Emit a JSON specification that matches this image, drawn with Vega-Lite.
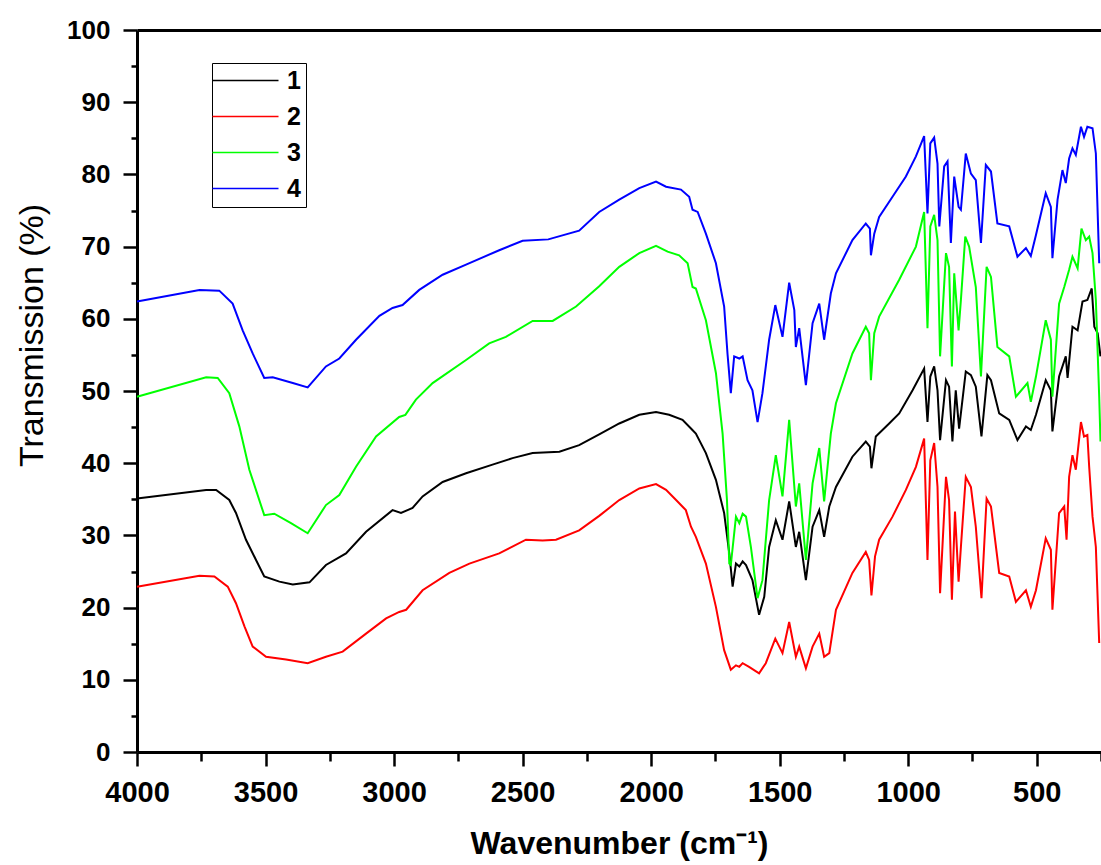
{
"$schema": "https://vega.github.io/schema/vega-lite/v6.json",
"width": 964, "height": 722,
"autosize": {"type": "none"},
"padding": {"left": 137, "top": 30, "right": 0, "bottom": 113},
"background": "white",
"config": {"view": {"stroke": null}, "font": "Liberation Sans"},
"data": {"values": [
{"s":"1","w":4000,"t":35.1},{"s":"1","w":3731,"t":36.3},{"s":"1","w":3692,"t":36.3},{"s":"1","w":3641,"t":34.9},{"s":"1","w":3615,"t":33.1},{"s":"1","w":3576,"t":29.4},{"s":"1","w":3537,"t":26.6},{"s":"1","w":3505,"t":24.3},{"s":"1","w":3446,"t":23.6},{"s":"1","w":3394,"t":23.2},{"s":"1","w":3329,"t":23.5},{"s":"1","w":3265,"t":25.9},{"s":"1","w":3187,"t":27.5},{"s":"1","w":3109,"t":30.5},{"s":"1","w":3006,"t":33.5},{"s":"1","w":2973,"t":33.1},{"s":"1","w":2928,"t":33.8},{"s":"1","w":2889,"t":35.4},{"s":"1","w":2811,"t":37.4},{"s":"1","w":2720,"t":38.6},{"s":"1","w":2617,"t":39.8},{"s":"1","w":2539,"t":40.7},{"s":"1","w":2461,"t":41.4},{"s":"1","w":2357,"t":41.6},{"s":"1","w":2280,"t":42.5},{"s":"1","w":2202,"t":44.0},{"s":"1","w":2124,"t":45.5},{"s":"1","w":2046,"t":46.7},{"s":"1","w":1981,"t":47.1},{"s":"1","w":1930,"t":46.7},{"s":"1","w":1878,"t":46.0},{"s":"1","w":1845,"t":44.8},{"s":"1","w":1826,"t":44.1},{"s":"1","w":1787,"t":41.4},{"s":"1","w":1748,"t":37.7},{"s":"1","w":1716,"t":33.1},{"s":"1","w":1696,"t":27.5},{"s":"1","w":1683,"t":22.9},{"s":"1","w":1670,"t":26.1},{"s":"1","w":1657,"t":25.7},{"s":"1","w":1644,"t":26.4},{"s":"1","w":1631,"t":25.9},{"s":"1","w":1606,"t":23.8},{"s":"1","w":1580,"t":19.0},{"s":"1","w":1560,"t":21.5},{"s":"1","w":1541,"t":28.4},{"s":"1","w":1515,"t":32.1},{"s":"1","w":1489,"t":29.4},{"s":"1","w":1463,"t":34.7},{"s":"1","w":1437,"t":28.4},{"s":"1","w":1424,"t":30.5},{"s":"1","w":1398,"t":23.8},{"s":"1","w":1372,"t":31.2},{"s":"1","w":1346,"t":33.5},{"s":"1","w":1327,"t":29.8},{"s":"1","w":1307,"t":34.0},{"s":"1","w":1281,"t":36.7},{"s":"1","w":1217,"t":40.9},{"s":"1","w":1165,"t":43.0},{"s":"1","w":1149,"t":42.3},{"s":"1","w":1143,"t":39.3},{"s":"1","w":1126,"t":43.7},{"s":"1","w":1074,"t":45.5},{"s":"1","w":1035,"t":46.9},{"s":"1","w":983,"t":50.1},{"s":"1","w":938,"t":53.1},{"s":"1","w":925,"t":45.7},{"s":"1","w":914,"t":52.0},{"s":"1","w":899,"t":53.4},{"s":"1","w":886,"t":50.1},{"s":"1","w":876,"t":43.2},{"s":"1","w":853,"t":51.5},{"s":"1","w":841,"t":50.6},{"s":"1","w":828,"t":43.0},{"s":"1","w":815,"t":50.1},{"s":"1","w":802,"t":44.8},{"s":"1","w":776,"t":52.7},{"s":"1","w":756,"t":52.2},{"s":"1","w":737,"t":50.6},{"s":"1","w":715,"t":43.7},{"s":"1","w":692,"t":52.2},{"s":"1","w":678,"t":51.5},{"s":"1","w":646,"t":46.9},{"s":"1","w":607,"t":46.0},{"s":"1","w":575,"t":43.2},{"s":"1","w":542,"t":45.1},{"s":"1","w":523,"t":44.6},{"s":"1","w":503,"t":46.7},{"s":"1","w":465,"t":51.5},{"s":"1","w":445,"t":50.1},{"s":"1","w":439,"t":44.4},{"s":"1","w":413,"t":52.0},{"s":"1","w":387,"t":54.8},{"s":"1","w":380,"t":51.8},{"s":"1","w":361,"t":58.9},{"s":"1","w":341,"t":58.4},{"s":"1","w":322,"t":62.4},{"s":"1","w":303,"t":62.6},{"s":"1","w":286,"t":64.2},{"s":"1","w":276,"t":58.9},{"s":"1","w":263,"t":58.0},{"s":"1","w":252,"t":54.8},
{"s":"2","w":4000,"t":22.9},{"s":"2","w":3757,"t":24.4},{"s":"2","w":3699,"t":24.3},{"s":"2","w":3647,"t":22.9},{"s":"2","w":3615,"t":20.6},{"s":"2","w":3582,"t":17.4},{"s":"2","w":3550,"t":14.6},{"s":"2","w":3498,"t":13.2},{"s":"2","w":3420,"t":12.8},{"s":"2","w":3336,"t":12.3},{"s":"2","w":3265,"t":13.2},{"s":"2","w":3200,"t":13.9},{"s":"2","w":3109,"t":16.4},{"s":"2","w":3031,"t":18.5},{"s":"2","w":2980,"t":19.4},{"s":"2","w":2953,"t":19.7},{"s":"2","w":2889,"t":22.4},{"s":"2","w":2785,"t":24.8},{"s":"2","w":2707,"t":26.1},{"s":"2","w":2591,"t":27.5},{"s":"2","w":2487,"t":29.4},{"s":"2","w":2422,"t":29.3},{"s":"2","w":2370,"t":29.4},{"s":"2","w":2280,"t":30.7},{"s":"2","w":2202,"t":32.7},{"s":"2","w":2124,"t":34.9},{"s":"2","w":2046,"t":36.5},{"s":"2","w":1981,"t":37.1},{"s":"2","w":1942,"t":36.3},{"s":"2","w":1903,"t":34.9},{"s":"2","w":1865,"t":33.5},{"s":"2","w":1845,"t":31.2},{"s":"2","w":1826,"t":29.8},{"s":"2","w":1787,"t":26.1},{"s":"2","w":1748,"t":20.1},{"s":"2","w":1716,"t":14.1},{"s":"2","w":1690,"t":11.4},{"s":"2","w":1670,"t":12.0},{"s":"2","w":1657,"t":11.8},{"s":"2","w":1644,"t":12.3},{"s":"2","w":1619,"t":11.8},{"s":"2","w":1580,"t":10.9},{"s":"2","w":1554,"t":12.3},{"s":"2","w":1517,"t":15.7},{"s":"2","w":1489,"t":13.7},{"s":"2","w":1463,"t":18.0},{"s":"2","w":1437,"t":13.2},{"s":"2","w":1424,"t":14.6},{"s":"2","w":1398,"t":11.6},{"s":"2","w":1372,"t":14.6},{"s":"2","w":1346,"t":16.4},{"s":"2","w":1327,"t":13.2},{"s":"2","w":1307,"t":13.7},{"s":"2","w":1281,"t":19.7},{"s":"2","w":1217,"t":24.8},{"s":"2","w":1165,"t":27.7},{"s":"2","w":1152,"t":26.6},{"s":"2","w":1143,"t":21.7},{"s":"2","w":1129,"t":27.1},{"s":"2","w":1113,"t":29.4},{"s":"2","w":1061,"t":32.6},{"s":"2","w":1009,"t":36.3},{"s":"2","w":970,"t":39.5},{"s":"2","w":938,"t":43.4},{"s":"2","w":925,"t":26.6},{"s":"2","w":914,"t":40.4},{"s":"2","w":899,"t":42.8},{"s":"2","w":886,"t":36.7},{"s":"2","w":876,"t":22.0},{"s":"2","w":853,"t":38.1},{"s":"2","w":841,"t":34.9},{"s":"2","w":830,"t":21.1},{"s":"2","w":818,"t":33.3},{"s":"2","w":804,"t":23.6},{"s":"2","w":795,"t":28.4},{"s":"2","w":776,"t":38.1},{"s":"2","w":756,"t":36.7},{"s":"2","w":737,"t":31.2},{"s":"2","w":715,"t":21.3},{"s":"2","w":695,"t":35.1},{"s":"2","w":678,"t":34.0},{"s":"2","w":646,"t":24.8},{"s":"2","w":607,"t":24.3},{"s":"2","w":581,"t":20.8},{"s":"2","w":542,"t":22.4},{"s":"2","w":523,"t":20.1},{"s":"2","w":503,"t":22.4},{"s":"2","w":465,"t":29.6},{"s":"2","w":445,"t":28.0},{"s":"2","w":439,"t":19.7},{"s":"2","w":413,"t":33.1},{"s":"2","w":393,"t":34.0},{"s":"2","w":384,"t":29.4},{"s":"2","w":374,"t":38.1},{"s":"2","w":361,"t":41.1},{"s":"2","w":348,"t":39.1},{"s":"2","w":328,"t":45.7},{"s":"2","w":316,"t":43.7},{"s":"2","w":303,"t":43.9},{"s":"2","w":296,"t":39.5},{"s":"2","w":283,"t":32.6},{"s":"2","w":270,"t":28.4},{"s":"2","w":257,"t":15.1},
{"s":"3","w":4000,"t":49.2},{"s":"3","w":3731,"t":51.9},{"s":"3","w":3686,"t":51.8},{"s":"3","w":3641,"t":49.7},{"s":"3","w":3602,"t":45.1},{"s":"3","w":3563,"t":39.1},{"s":"3","w":3505,"t":32.8},{"s":"3","w":3466,"t":33.0},{"s":"3","w":3401,"t":31.7},{"s":"3","w":3336,"t":30.3},{"s":"3","w":3265,"t":34.2},{"s":"3","w":3213,"t":35.6},{"s":"3","w":3148,"t":39.5},{"s":"3","w":3070,"t":43.7},{"s":"3","w":2980,"t":46.4},{"s":"3","w":2956,"t":46.7},{"s":"3","w":2915,"t":48.8},{"s":"3","w":2850,"t":51.1},{"s":"3","w":2720,"t":54.3},{"s":"3","w":2630,"t":56.6},{"s":"3","w":2565,"t":57.5},{"s":"3","w":2461,"t":59.7},{"s":"3","w":2383,"t":59.7},{"s":"3","w":2292,"t":61.7},{"s":"3","w":2202,"t":64.5},{"s":"3","w":2124,"t":67.2},{"s":"3","w":2046,"t":69.1},{"s":"3","w":1981,"t":70.1},{"s":"3","w":1936,"t":69.3},{"s":"3","w":1891,"t":68.8},{"s":"3","w":1858,"t":67.7},{"s":"3","w":1839,"t":64.4},{"s":"3","w":1826,"t":64.2},{"s":"3","w":1787,"t":59.8},{"s":"3","w":1748,"t":52.5},{"s":"3","w":1722,"t":44.1},{"s":"3","w":1705,"t":34.9},{"s":"3","w":1696,"t":26.1},{"s":"3","w":1690,"t":25.9},{"s":"3","w":1670,"t":32.6},{"s":"3","w":1657,"t":31.7},{"s":"3","w":1644,"t":33.0},{"s":"3","w":1631,"t":32.6},{"s":"3","w":1612,"t":28.4},{"s":"3","w":1586,"t":21.3},{"s":"3","w":1567,"t":23.8},{"s":"3","w":1541,"t":34.9},{"s":"3","w":1515,"t":41.1},{"s":"3","w":1489,"t":35.4},{"s":"3","w":1463,"t":46.0},{"s":"3","w":1437,"t":34.0},{"s":"3","w":1424,"t":37.2},{"s":"3","w":1398,"t":26.6},{"s":"3","w":1372,"t":37.2},{"s":"3","w":1346,"t":42.1},{"s":"3","w":1327,"t":34.7},{"s":"3","w":1301,"t":44.1},{"s":"3","w":1281,"t":48.3},{"s":"3","w":1217,"t":55.2},{"s":"3","w":1165,"t":58.9},{"s":"3","w":1152,"t":58.0},{"s":"3","w":1145,"t":51.5},{"s":"3","w":1132,"t":58.0},{"s":"3","w":1113,"t":60.3},{"s":"3","w":1035,"t":65.4},{"s":"3","w":970,"t":70.0},{"s":"3","w":938,"t":74.8},{"s":"3","w":925,"t":58.7},{"s":"3","w":914,"t":72.8},{"s":"3","w":899,"t":74.4},{"s":"3","w":886,"t":70.9},{"s":"3","w":876,"t":54.8},{"s":"3","w":853,"t":69.1},{"s":"3","w":841,"t":67.2},{"s":"3","w":830,"t":53.4},{"s":"3","w":821,"t":66.3},{"s":"3","w":804,"t":58.4},{"s":"3","w":795,"t":62.6},{"s":"3","w":778,"t":71.4},{"s":"3","w":763,"t":70.0},{"s":"3","w":737,"t":64.4},{"s":"3","w":717,"t":52.0},{"s":"3","w":695,"t":67.2},{"s":"3","w":678,"t":65.8},{"s":"3","w":653,"t":56.1},{"s":"3","w":607,"t":54.8},{"s":"3","w":581,"t":49.2},{"s":"3","w":536,"t":51.1},{"s":"3","w":523,"t":48.5},{"s":"3","w":503,"t":52.0},{"s":"3","w":465,"t":59.8},{"s":"3","w":445,"t":57.1},{"s":"3","w":439,"t":49.2},{"s":"3","w":413,"t":62.1},{"s":"3","w":393,"t":64.4},{"s":"3","w":374,"t":66.8},{"s":"3","w":361,"t":68.6},{"s":"3","w":341,"t":67.0},{"s":"3","w":326,"t":72.5},{"s":"3","w":309,"t":70.9},{"s":"3","w":296,"t":71.4},{"s":"3","w":283,"t":69.1},{"s":"3","w":270,"t":62.6},{"s":"3","w":257,"t":49.2},{"s":"3","w":252,"t":43.0},
{"s":"4","w":4000,"t":62.4},{"s":"4","w":3757,"t":64.0},{"s":"4","w":3680,"t":63.9},{"s":"4","w":3628,"t":62.1},{"s":"4","w":3589,"t":58.4},{"s":"4","w":3550,"t":55.2},{"s":"4","w":3505,"t":51.8},{"s":"4","w":3472,"t":51.9},{"s":"4","w":3394,"t":51.1},{"s":"4","w":3336,"t":50.5},{"s":"4","w":3265,"t":53.4},{"s":"4","w":3213,"t":54.5},{"s":"4","w":3148,"t":57.1},{"s":"4","w":3057,"t":60.4},{"s":"4","w":3006,"t":61.5},{"s":"4","w":2967,"t":61.9},{"s":"4","w":2902,"t":64.0},{"s":"4","w":2811,"t":66.1},{"s":"4","w":2720,"t":67.5},{"s":"4","w":2591,"t":69.5},{"s":"4","w":2500,"t":70.8},{"s":"4","w":2400,"t":71.0},{"s":"4","w":2280,"t":72.2},{"s":"4","w":2202,"t":74.8},{"s":"4","w":2124,"t":76.5},{"s":"4","w":2046,"t":78.1},{"s":"4","w":1981,"t":79.0},{"s":"4","w":1942,"t":78.3},{"s":"4","w":1884,"t":77.9},{"s":"4","w":1852,"t":76.9},{"s":"4","w":1839,"t":75.1},{"s":"4","w":1819,"t":74.8},{"s":"4","w":1787,"t":71.8},{"s":"4","w":1748,"t":67.7},{"s":"4","w":1716,"t":61.7},{"s":"4","w":1703,"t":55.2},{"s":"4","w":1690,"t":49.7},{"s":"4","w":1677,"t":54.8},{"s":"4","w":1657,"t":54.5},{"s":"4","w":1644,"t":54.8},{"s":"4","w":1625,"t":51.5},{"s":"4","w":1606,"t":50.1},{"s":"4","w":1586,"t":45.7},{"s":"4","w":1567,"t":49.7},{"s":"4","w":1541,"t":57.1},{"s":"4","w":1517,"t":61.9},{"s":"4","w":1489,"t":57.5},{"s":"4","w":1463,"t":65.0},{"s":"4","w":1443,"t":61.2},{"s":"4","w":1437,"t":56.1},{"s":"4","w":1424,"t":58.7},{"s":"4","w":1398,"t":50.8},{"s":"4","w":1372,"t":59.4},{"s":"4","w":1346,"t":62.1},{"s":"4","w":1327,"t":57.1},{"s":"4","w":1301,"t":63.5},{"s":"4","w":1281,"t":66.3},{"s":"4","w":1217,"t":70.9},{"s":"4","w":1165,"t":73.2},{"s":"4","w":1149,"t":72.5},{"s":"4","w":1145,"t":68.8},{"s":"4","w":1132,"t":71.8},{"s":"4","w":1113,"t":74.1},{"s":"4","w":1061,"t":76.9},{"s":"4","w":1009,"t":79.7},{"s":"4","w":970,"t":82.5},{"s":"4","w":938,"t":85.3},{"s":"4","w":925,"t":74.6},{"s":"4","w":914,"t":84.3},{"s":"4","w":899,"t":85.1},{"s":"4","w":886,"t":81.5},{"s":"4","w":879,"t":72.8},{"s":"4","w":860,"t":81.1},{"s":"4","w":847,"t":81.8},{"s":"4","w":834,"t":70.5},{"s":"4","w":821,"t":79.7},{"s":"4","w":804,"t":75.5},{"s":"4","w":795,"t":75.1},{"s":"4","w":776,"t":82.9},{"s":"4","w":756,"t":80.1},{"s":"4","w":737,"t":79.2},{"s":"4","w":717,"t":70.5},{"s":"4","w":698,"t":81.3},{"s":"4","w":678,"t":80.4},{"s":"4","w":653,"t":73.2},{"s":"4","w":607,"t":72.8},{"s":"4","w":575,"t":68.6},{"s":"4","w":542,"t":69.8},{"s":"4","w":523,"t":68.7},{"s":"4","w":503,"t":71.6},{"s":"4","w":465,"t":77.4},{"s":"4","w":445,"t":75.5},{"s":"4","w":439,"t":68.4},{"s":"4","w":419,"t":76.5},{"s":"4","w":400,"t":80.6},{"s":"4","w":387,"t":78.8},{"s":"4","w":374,"t":82.2},{"s":"4","w":361,"t":83.6},{"s":"4","w":348,"t":82.7},{"s":"4","w":328,"t":86.6},{"s":"4","w":316,"t":85.2},{"s":"4","w":303,"t":86.6},{"s":"4","w":283,"t":86.4},{"s":"4","w":270,"t":82.9},{"s":"4","w":257,"t":67.7}
]},
"layer": [
{"mark": {"type": "line", "opacity": 0},
 "encoding": {
  "x": {"field": "w", "type": "quantitative",
   "axis": {"orient": "bottom", "title": null, "values": [3750,3250,2750,2250,1750,1250,750,250], "labels": false, "domain": false, "grid": false, "tickSize": 9, "tickColor": "black", "tickWidth": 2.5}},
  "y": {"field": "t", "type": "quantitative",
   "axis": {"orient": "left", "title": null, "values": [5,15,25,35,45,55,65,75,85,95], "labels": false, "domain": false, "grid": false, "tickSize": 6, "tickColor": "black", "tickWidth": 2.5}},
  "detail": {"field": "s"}}},
{"mark": {"type": "line", "opacity": 0},
 "encoding": {
  "x": {"field": "w", "type": "quantitative",
   "axis": {"orient": "top", "title": null, "labels": false, "ticks": false, "grid": false, "domain": true, "domainColor": "black", "domainWidth": 3}},
  "y": {"field": "t", "type": "quantitative", "axis": null},
  "detail": {"field": "s"}}},
{"mark": {"type": "line", "strokeWidth": 2},
 "encoding": {
  "x": {"field": "w", "type": "quantitative",
   "scale": {"domain": [250, 4000], "reverse": true, "nice": false, "zero": false},
   "axis": {"orient": "bottom", "title": "Wavenumber (cm⁻¹)", "values": [4000,3500,3000,2500,2000,1500,1000,500],
    "format": "d", "labelFlush": false, "labelOverlap": false,
    "tickSize": 14, "tickColor": "black", "tickWidth": 2.5, "domainColor": "black", "domainWidth": 3,
    "labelFont": "Liberation Sans", "labelFontSize": 29, "labelFontWeight": "bold", "labelColor": "black", "labelPadding": 12,
    "titleFont": "Liberation Sans", "titleFontSize": 32, "titleFontWeight": "bold", "titleColor": "black",
    "titleY": 101, "titleBaseline": "alphabetic", "grid": false}},
  "y": {"field": "t", "type": "quantitative",
   "scale": {"domain": [0, 100], "nice": false},
   "axis": {"orient": "left", "title": "Transmission (%)", "values": [0,10,20,30,40,50,60,70,80,90,100],
    "format": "d", "labelFlush": false, "labelOverlap": false,
    "tickSize": 14, "tickColor": "black", "tickWidth": 2.5, "domainColor": "black", "domainWidth": 3,
    "labelFont": "Liberation Sans", "labelFontSize": 26, "labelFontWeight": "bold", "labelColor": "black", "labelPadding": 13,
    "titleFont": "Liberation Sans", "titleFontSize": 34, "titleFontWeight": "normal", "titleColor": "black",
    "titleX": -95, "titleY": 305, "titleBaseline": "alphabetic", "titleAngle": 270, "grid": false}},
  "color": {"field": "s", "type": "nominal",
   "scale": {"domain": ["1", "2", "3", "4"], "range": ["#000000", "#ff0000", "#00ff00", "#0000ff"]},
   "legend": {"title": null, "orient": "none", "legendX": 75, "legendY": 33,
    "symbolType": "M-3,0H3", "symbolSize": 484, "symbolStrokeWidth": 1.5,
    "strokeColor": "black", "padding": 5, "symbolOffset": 16, "labelOffset": 29,
    "labelFont": "Liberation Sans", "labelFontSize": 25, "labelFontWeight": "bold", "labelColor": "black", "rowPadding": 10}}}}
],
"resolve": {"axis": {"x": "independent", "y": "independent"}}
}
